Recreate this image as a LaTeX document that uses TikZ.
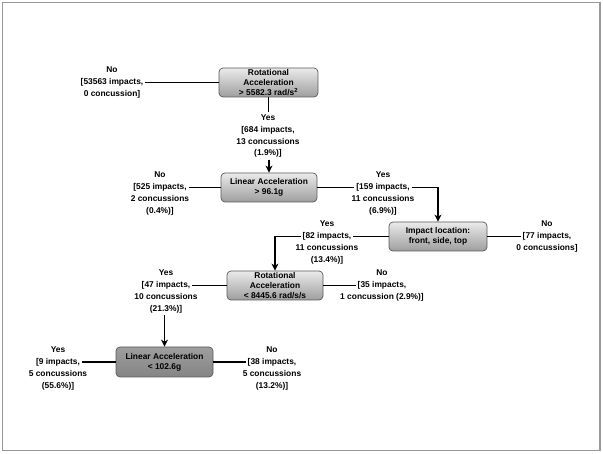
\documentclass[tikz,border=0pt]{standalone}
\usepackage{fontspec}
\setmainfont{Liberation Sans}
\usetikzlibrary{arrows.meta,positioning}
\begin{document}
\begin{tikzpicture}[x=1pt,y=-1pt,
  every node/.style={font=\fontsize{8.4}{9.8}\selectfont\bfseries},
  box/.style={draw=black!65, line width=0.7pt, rounded corners=4pt, align=center, inner sep=0pt, minimum height=29pt, text=black},
  lbox/.style={box, top color=black!8, bottom color=black!38},
  dbox/.style={box, top color=black!38, middle color=black!18, bottom color=black!48},
  ln/.style={inner sep=0pt, text height=8pt, text depth=3.5pt, text=black},
  con/.style={line width=1.8pt, black},
  arr/.style={con, -{Stealth[length=7pt,width=7pt,inset=2pt]}},
]
\useasboundingbox (0,0) rectangle (603,454);
\draw[black!40, line width=1.3pt] (2.5,2.5) rectangle (600,450.5);

% boxes
\node[lbox, minimum width=99pt] (B1) at (268.5,82.5) {Rotational\\Acceleration\\> 5582.3 rad/s\textsuperscript{2}};
\node[lbox, minimum width=96pt] (B2) at (269,187.5) {Linear Acceleration\\> 96.1g};
\node[lbox, minimum width=98pt] (B3) at (438,236.5) {Impact location:\\front, side, top};
\node[lbox, minimum width=96pt] (B4) at (275,285.5) {Rotational\\Acceleration\\< 8445.6 rad/s/s};
\node[dbox, minimum width=97pt, minimum height=30pt] (B5) at (164.5,362) {Linear Acceleration\\< 102.6g};

% L1
\node[ln] (l1) at (112,82.5) {[53563 impacts,};
\node[ln, above=0pt of l1] {No};
\node[ln, below=0pt of l1] {0 concussion]};
\draw[con] (B1.west) -- ([xshift=2pt]l1.east);

% L2
\node[ln] (l2a) at (268,118) {Yes};
\node[ln, below=0pt of l2a] (l2b) {[684 impacts,};
\node[ln, below=0pt of l2b] (l2c) {13 concussions};
\node[ln, below=0pt of l2c] (l2d) {(1.9\%)]};
\draw[con] (B1.south) -- (B1.south |- l2a.north);
\draw[arr] (B2.north |- l2d.south) -- (B2.north);

% L3
\node[ln] (l3b) at (160,187.5) {[525 impacts,};
\node[ln, above=0pt of l3b] {No};
\node[ln, below=0pt of l3b] (l3c) {2 concussions};
\node[ln, below=0pt of l3c] {(0.4\%)]};
\draw[con] (B2.west) -- ([xshift=2pt]l3b.east);

% L4
\node[ln] (l4b) at (383,187.5) {[159 impacts,};
\node[ln, above=0pt of l4b] {Yes};
\node[ln, below=0pt of l4b] (l4c) {11 concussions};
\node[ln, below=0pt of l4c] {(6.9\%)]};
\draw[con] (B2.east) -- ([xshift=-2pt]l4b.west);
\draw[arr] ([xshift=2pt]l4b.east) -| (B3.north);

% L5
\node[ln] (l5) at (547,236.5) {[77 impacts,};
\node[ln, above=0pt of l5] {No};
\node[ln, below=0pt of l5] {0 concussions]};
\draw[con] (B3.east) -- ([xshift=-2pt]l5.west);

% L6
\node[ln] (l6b) at (327,236.5) {[82 impacts,};
\node[ln, above=0pt of l6b] {Yes};
\node[ln, below=0pt of l6b] (l6c) {11 concussions};
\node[ln, below=0pt of l6c] {(13.4\%)]};
\draw[con] (B3.west) -- ([xshift=2pt]l6b.east);
\draw[arr] ([xshift=-2pt]l6b.west) -| (B4.north);

% L7
\node[ln] (l7b) at (382,285.5) {[35 impacts,};
\node[ln, above=0pt of l7b] {No};
\node[ln, below=0pt of l7b] {1 concussion (2.9\%)]};
\draw[con] (B4.east) -- ([xshift=-2pt]l7b.west);

% L8
\node[ln] (l8b) at (166,285.5) {[47 impacts,};
\node[ln, above=0pt of l8b] {Yes};
\node[ln, below=0pt of l8b] (l8c) {10 concussions};
\node[ln, below=0pt of l8c] (l8d) {(21.3\%)]};
\draw[con] (B4.west) -- ([xshift=2pt]l8b.east);
\draw[arr] (B5.north |- l8d.south) -- (B5.north);

% L9
\node[ln] (l9b) at (58,362) {[9 impacts,};
\node[ln, above=0pt of l9b] {Yes};
\node[ln, below=0pt of l9b] (l9c) {5 concussions};
\node[ln, below=0pt of l9c] {(55.6\%)]};
\draw[con] (B5.west) -- ([xshift=2pt]l9b.east);

% L10
\node[ln] (l10b) at (272,362) {[38 impacts,};
\node[ln, above=0pt of l10b] {No};
\node[ln, below=0pt of l10b] (l10c) {5 concussions};
\node[ln, below=0pt of l10c] {(13.2\%)]};
\draw[con] (B5.east) -- ([xshift=-2pt]l10b.west);
\end{tikzpicture}
\end{document}
